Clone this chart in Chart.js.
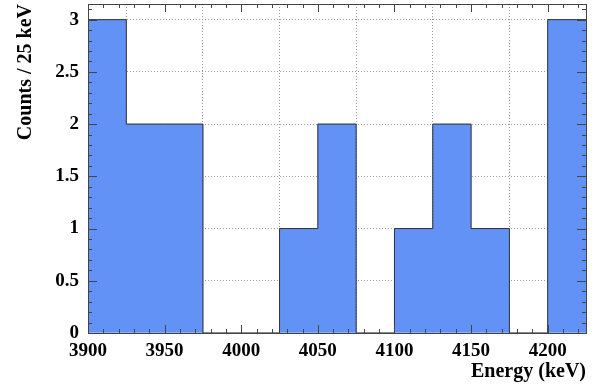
<!DOCTYPE html>
<html>
<head>
<meta charset="utf-8">
<script src="https://cdn.jsdelivr.net/npm/chart.js@4.4.1/dist/chart.umd.min.js"></script>
<style>
    html, body { margin: 0; padding: 0; background: #fff; }
    #wrap { width: 600px; height: 385px; position: relative; }
</style>
</head>
<body>
<div id="wrap"><canvas id="histChart"></canvas></div>
<script>
// ===== HISTOGRAM DATA =====
const binWidth = 25;
const binStarts = [3900, 3925, 3950, 3975, 4000, 4025, 4050, 4075, 4100, 4125, 4150, 4175, 4200];
const counts = [3, 2, 2, 0, 0, 1, 2, 0, 1, 2, 1, 0, 3];
const xTicks = [3900, 3950, 4000, 4050, 4100, 4150, 4200];
const yTicks = [0, 0.5, 1, 1.5, 2, 2.5, 3];

const xMin = 3900, xMax = 4225;
const yMin = 0, yMax = 3.15;

const fillColor = 'rgb(99, 146, 246)';
const lineColor = '#333';
const serif = '"Liberation Serif", "Times New Roman", serif';
const labelFont = { family: serif, size: 19, weight: 'bold' };
const titleFont = { family: serif, size: 20, weight: 'bold' };

// step outline points (bin starts + closing edge)
const stepPoints = binStarts.map((x, i) => ({ x: x, y: counts[i] }));
stepPoints.push({ x: xMax, y: counts[counts.length - 1] });

// Draw frame and ROOT-style inner ticks
const frameTicks = {
    id: 'frameTicks',
    afterDraw(chart) {
        const { ctx, chartArea: a, scales } = chart;
        const xs = scales.x, ys = scales.y;
        ctx.save();
        ctx.strokeStyle = '#444';
        ctx.lineWidth = 1;
        ctx.beginPath();

        // x ticks, bottom and top
        for (let v = xMin; v <= xMax; v += 10) {
            const px = Math.round(xs.getPixelForValue(v)) + 0.5;
            const len = xTicks.includes(v) ? 8 : 4;
            ctx.moveTo(px, a.bottom); ctx.lineTo(px, a.bottom - len);
            ctx.moveTo(px, a.top); ctx.lineTo(px, a.top + len);
        }
        // y ticks, left and right
        for (let k = 0; k <= 31; k++) {
            const v = k / 10;
            const py = Math.round(ys.getPixelForValue(v)) + 0.5;
            const len = (k % 5 === 0) ? 9 : 4;
            ctx.moveTo(a.left, py); ctx.lineTo(a.left + len, py);
            ctx.moveTo(a.right, py); ctx.lineTo(a.right - len, py);
        }
        ctx.stroke();
        ctx.strokeRect(Math.round(a.left) + 0.5, Math.round(a.top) + 0.5,
            Math.round(a.right - a.left), Math.round(a.bottom - a.top));
        ctx.restore();
    }
};

function initializeChart() {
    const ctx = document.getElementById('histChart');

    new Chart(ctx, {
        type: 'bar',
        data: {
            datasets: [{
                type: 'line',
                data: stepPoints,
                stepped: 'before',
                borderColor: lineColor,
                borderWidth: 1,
                pointRadius: 0,
                fill: false
            }, {
                data: binStarts.map((x, i) => ({ x: x + binWidth / 2, y: counts[i] })),
                backgroundColor: fillColor,
                borderWidth: 0,
                barPercentage: 1,
                categoryPercentage: 1
            }]
        },
        options: {
            responsive: true,
            maintainAspectRatio: false,
            animation: false,
            layout: { padding: { top: 4, right: 14, left: 0, bottom: 0 } },
            plugins: {
                legend: { display: false },
                tooltip: { enabled: false }
            },
            scales: {
                x: {
                    type: 'linear',
                    min: xMin,
                    max: xMax,
                    offset: false,
                    afterBuildTicks: (scale) => { scale.ticks = xTicks.map(v => ({ value: v })); },
                    afterFit: (scale) => {
                        scale.height = 52;
                        scale.paddingLeft = 0;
                        scale.paddingRight = 0;
                    },
                    grid: { color: '#999', drawTicks: false },
                    border: { display: false, dash: [1, 2] },
                    ticks: {
                        font: labelFont,
                        color: '#000',
                        padding: 7,
                        maxRotation: 0,
                        autoSkip: false,
                        callback: (v) => String(v)
                    },
                    title: {
                        display: true,
                        text: 'Energy (keV)',
                        align: 'end',
                        font: titleFont,
                        color: '#000',
                        padding: { top: 0, bottom: 1 }
                    }
                },
                y: {
                    min: yMin,
                    max: yMax,
                    afterBuildTicks: (scale) => { scale.ticks = yTicks.map(v => ({ value: v })); },
                    afterFit: (scale) => {
                        scale.width = 88;
                        scale.paddingTop = 0;
                        scale.paddingBottom = 0;
                    },
                    grid: { color: '#999', drawTicks: false },
                    border: { display: false, dash: [1, 2] },
                    ticks: {
                        font: labelFont,
                        color: '#000',
                        padding: 9,
                        callback: (v) => String(v)
                    },
                    title: {
                        display: true,
                        text: 'Counts / 25 keV',
                        align: 'end',
                        font: titleFont,
                        color: '#000',
                        padding: { top: 14, bottom: 0 }
                    }
                }
            }
        },
        plugins: [frameTicks]
    });
}

document.addEventListener('DOMContentLoaded', initializeChart);
</script>
</body>
</html>
